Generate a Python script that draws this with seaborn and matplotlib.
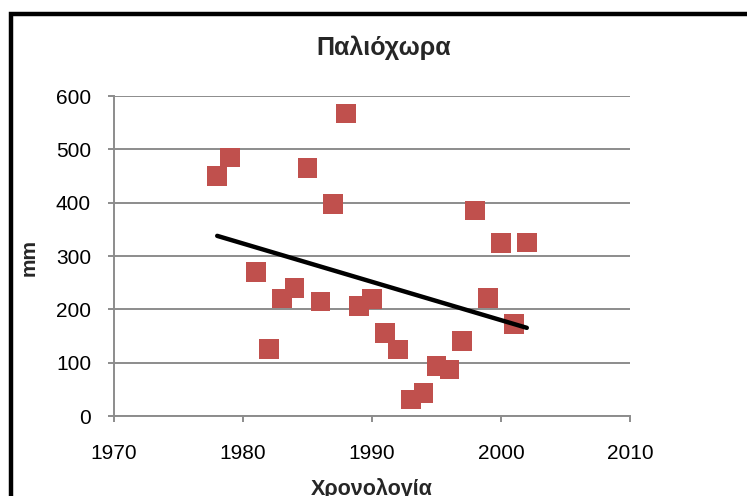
import matplotlib
matplotlib.use("Agg")
import matplotlib.pyplot as plt
import seaborn as sns
import pandas as pd
from matplotlib.patches import Rectangle

years = [1978, 1979, 1981, 1982, 1983, 1984, 1985, 1986, 1987, 1988, 1989, 1990,
         1991, 1992, 1993, 1994, 1995, 1996, 1997, 1998, 1999, 2000, 2001, 2002]
values = [450, 485, 270, 126, 220, 240, 465, 215, 397, 567, 206, 219,
          156, 125, 31, 43, 94, 87, 141, 385, 221, 324, 173, 325]
x_ticks = [1970, 1980, 1990, 2000, 2010]
y_ticks = [0, 100, 200, 300, 400, 500, 600]
title = "Παλιόχωρα"
x_label = "Χρονολογία"
y_label = "mm"

df = pd.DataFrame({"year": years, "mm": values})

sns.set_theme(style="white")
plt.rcParams['font.family'] = ['Liberation Sans', 'DejaVu Sans']

fig = plt.figure(figsize=(7.47, 4.96), dpi=100)
ax = fig.add_axes([114/747, 80/496, 516/747, 320/496])

grid_c = "#8c8c8c"
sns.scatterplot(data=df, x="year", y="mm", ax=ax, marker="s", s=200,
                color="#C0504D", edgecolor="none", zorder=3)
sns.regplot(data=df, x="year", y="mm", ax=ax, scatter=False, ci=None,
            line_kws=dict(color="black", lw=3.2, solid_capstyle="round", zorder=4))

ax.set_xlim(1970, 2010)
ax.set_ylim(0, 600)
ax.set_xticks(x_ticks)
ax.set_yticks(y_ticks)
ax.set_xticklabels([str(t) for t in x_ticks], fontsize=15)
ax.set_yticklabels([str(t) for t in y_ticks], fontsize=15)
ax.yaxis.grid(True, color=grid_c, lw=1.4)
ax.set_axisbelow(True)
for s in ["top", "right"]:
    ax.spines[s].set_visible(False)
for s in ["left", "bottom"]:
    ax.spines[s].set_color(grid_c)
    ax.spines[s].set_linewidth(1.4)
ax.tick_params(axis="both", direction="out", length=4.5, width=1.4, color=grid_c,
               labelcolor="black", bottom=True, left=True)
ax.tick_params(axis="x", pad=16)
ax.tick_params(axis="y", pad=12)
ax.set_xlabel("")
ax.set_ylabel("")

fig.text(384/747, 1 - 55/496, title, ha="center", va="baseline", fontsize=18,
         fontweight="bold")
fig.text(372/747, 1 - 495/496, x_label, ha="center", va="baseline", fontsize=15.5,
         fontweight="bold")
fig.text(29/747, 1 - 257/496, y_label, ha="center", va="center", fontsize=15,
         fontweight="bold", rotation=90)

fig.patches.append(Rectangle((11/747, -0.1), 1.0, 1 - 13.5/496 + 0.1,
                             transform=fig.transFigure, fill=False,
                             edgecolor="black", lw=3.2))

fig.savefig("out.png", dpi=100)
